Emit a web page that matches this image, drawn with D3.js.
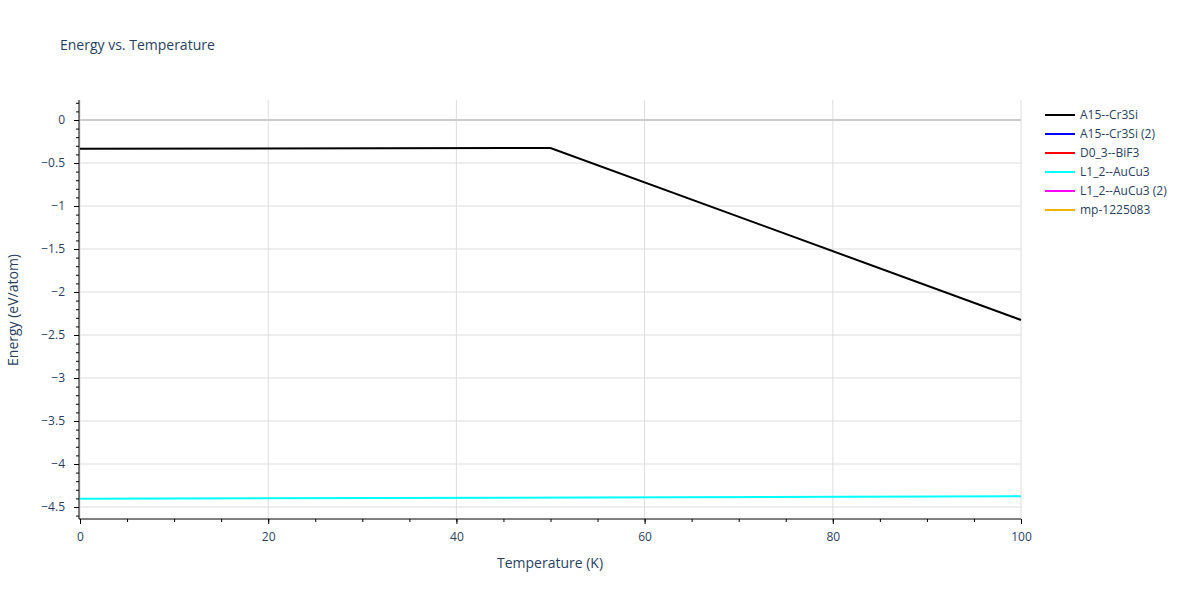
<!DOCTYPE html><html><head><script src="https://cdn.jsdelivr.net/npm/d3@7"></script>
<style>body{margin:0;font-family:"Open Sans",sans-serif}</style></head><body><svg id="c" width="1200" height="600"></svg>
<script>
const seriesNames=["A15--Cr3Si","A15--Cr3Si (2)","D0_3--BiF3","L1_2--AuCu3","L1_2--AuCu3 (2)","mp-1225083"];
const seriesColors=["#000000","#0000ff","#ff0000","#00ffff","#ff00ff","#f0b400"];
const tempA15=[0,50,100], energyA15=[-0.335,-0.325,-2.325];
const tempL12=[0,100], energyL12=[-4.405,-4.375];
const seriesData=[[tempA15,energyA15],[[],[]],[[],[]],[tempL12,energyL12],[[],[]],[[],[]]];
const yTicks=[0,-0.5,-1,-1.5,-2,-2.5,-3,-3.5,-4,-4.5];
const xTicks=[0,20,40,60,80,100];
const svg=d3.select("#c");
const x=d3.scaleLinear().domain([0,100]).range([80,1021]);
const y=d3.scaleLinear().domain([0,-4.5]).range([120,507]);
const pTop=100,pBot=519;
const g=svg.append("g");
xTicks.forEach(t=>g.append("line").attr("x1",x(t)).attr("x2",x(t)).attr("y1",pTop).attr("y2",pBot).attr("stroke","#ddd"));
yTicks.forEach(t=>g.append("line").attr("x1",80).attr("x2",1021).attr("y1",y(t)).attr("y2",y(t)).attr("stroke",t===0?"#ccc":"#ddd").attr("stroke-width",t===0?2:1));
const fmt=d=>d===0?"0":String(d).replace("-","−");
const ya=svg.append("g").attr("transform","translate(79,0)").call(d3.axisLeft(y).tickValues(yTicks).tickFormat(fmt).tickSize(5).tickPadding(9));
ya.select(".domain").attr("d",`M0,${pTop}V${pBot}`);
svg.append("g").attr("transform","translate(79,0)").call(d3.axisLeft(y).tickValues(d3.range(2,-47,-1).map(v=>v/10)).tickFormat("").tickSize(3)).select(".domain").remove();
const xa=svg.append("g").attr("transform",`translate(0,${pBot})`).call(d3.axisBottom(x).tickValues(xTicks).tickSize(5).tickPadding(8));
xa.select(".domain").attr("d","M79,0H1021");
svg.append("g").attr("transform",`translate(0,${pBot})`).call(d3.axisBottom(x).tickValues(d3.range(0,101,5)).tickFormat("").tickSize(3)).select(".domain").remove();
svg.selectAll(".tick text").attr("fill","#2a3f5f").attr("font-size",12).attr("font-family","Open Sans");
svg.selectAll(".tick line,.domain").attr("stroke","#000");
const line=d3.line().x(d=>x(d[0])).y(d=>y(d[1]));
seriesData.forEach((s,i)=>{const pts=s[0].map((t,j)=>[t,s[1][j]]);if(pts.length)svg.append("path").attr("d",line(pts)).attr("fill","none").attr("stroke",seriesColors[i]).attr("stroke-width",2);});
const lg=svg.append("g");
seriesNames.forEach((n,i)=>{const yy=115+i*19;lg.append("line").attr("x1",1045).attr("x2",1075).attr("y1",yy).attr("y2",yy).attr("stroke",seriesColors[i]).attr("stroke-width",2);lg.append("text").attr("x",1080).attr("y",yy+4).text(n).attr("font-size",12).attr("fill","#2a3f5f");});
svg.append("text").attr("x",60).attr("y",50).text("Energy vs. Temperature").attr("font-size",14).attr("fill","#2a3f5f");
svg.append("text").attr("x",550).attr("y",568).attr("text-anchor","middle").text("Temperature (K)").attr("font-size",14).attr("fill","#2a3f5f");
svg.append("text").attr("transform","translate(18,310) rotate(-90)").attr("text-anchor","middle").text("Energy (eV/atom)").attr("font-size",14).attr("fill","#2a3f5f");
</script></body></html>
